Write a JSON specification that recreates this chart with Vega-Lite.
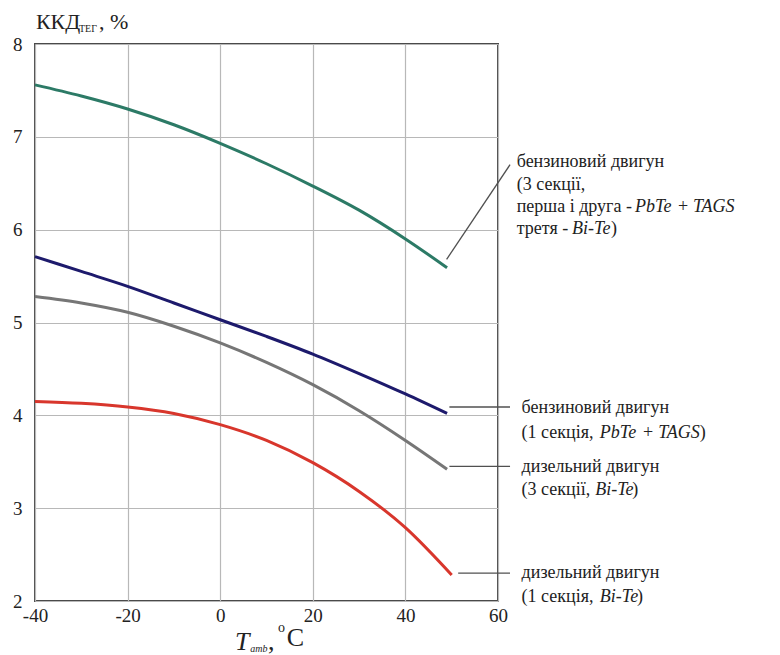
{
  "$schema": "https://vega.github.io/schema/vega-lite/v6.json",
  "width": 463,
  "height": 557,
  "autosize": "none",
  "padding": {"left": 35, "top": 44, "right": 282, "bottom": 54},
  "background": "white",
  "config": {
    "font": "Liberation Serif",
    "view": {"stroke": "#4a4a4a", "strokeWidth": 2},
    "axis": {"domain": false, "ticks": false, "grid": true, "gridColor": "#b8b8b8", "gridWidth": 1.2, "labelFont": "Liberation Serif", "labelFontSize": 19, "labelColor": "#222", "title": null}
  },
  "datasets": {
    "curves": [
      {"series": "g3", "t": -40, "eff": 7.56}, {"series": "g3", "t": -30, "eff": 7.44}, {"series": "g3", "t": -20, "eff": 7.30}, {"series": "g3", "t": -10, "eff": 7.13}, {"series": "g3", "t": 0, "eff": 6.93}, {"series": "g3", "t": 10, "eff": 6.71}, {"series": "g3", "t": 20, "eff": 6.47}, {"series": "g3", "t": 30, "eff": 6.21}, {"series": "g3", "t": 40, "eff": 5.90}, {"series": "g3", "t": 49, "eff": 5.59},
      {"series": "g1", "t": -40, "eff": 5.71}, {"series": "g1", "t": -30, "eff": 5.55}, {"series": "g1", "t": -20, "eff": 5.39}, {"series": "g1", "t": -10, "eff": 5.21}, {"series": "g1", "t": 0, "eff": 5.03}, {"series": "g1", "t": 10, "eff": 4.85}, {"series": "g1", "t": 20, "eff": 4.66}, {"series": "g1", "t": 30, "eff": 4.45}, {"series": "g1", "t": 40, "eff": 4.23}, {"series": "g1", "t": 49, "eff": 4.02},
      {"series": "d3", "t": -40, "eff": 5.28}, {"series": "d3", "t": -30, "eff": 5.21}, {"series": "d3", "t": -20, "eff": 5.11}, {"series": "d3", "t": -10, "eff": 4.96}, {"series": "d3", "t": 0, "eff": 4.78}, {"series": "d3", "t": 10, "eff": 4.57}, {"series": "d3", "t": 20, "eff": 4.33}, {"series": "d3", "t": 30, "eff": 4.05}, {"series": "d3", "t": 40, "eff": 3.73}, {"series": "d3", "t": 49, "eff": 3.42},
      {"series": "d1", "t": -40, "eff": 4.15}, {"series": "d1", "t": -30, "eff": 4.13}, {"series": "d1", "t": -20, "eff": 4.09}, {"series": "d1", "t": -10, "eff": 4.02}, {"series": "d1", "t": 0, "eff": 3.90}, {"series": "d1", "t": 10, "eff": 3.73}, {"series": "d1", "t": 20, "eff": 3.49}, {"series": "d1", "t": 30, "eff": 3.18}, {"series": "d1", "t": 40, "eff": 2.79}, {"series": "d1", "t": 50, "eff": 2.28}
    ],
    "leaders": [
      {"t": 48.9, "eff": 5.68, "t2": 62.6, "eff2": 6.70},
      {"t": 49.5, "eff": 4.09, "t2": 62.6, "eff2": 4.09},
      {"t": 49.5, "eff": 3.45, "t2": 62.6, "eff2": 3.45},
      {"t": 51.4, "eff": 2.30, "t2": 62.6, "eff2": 2.30}
    ],
    "notesPlain": [
      {"t": 64.04, "eff": 6.728, "text": "бензиновий двигун"},
      {"t": 64.04, "eff": 6.486, "text": "(3 секції,"},
      {"t": 64.04, "eff": 6.244, "text": "перша і друга -"},
      {"t": 98.9, "eff": 6.244, "text": "+"},
      {"t": 64.04, "eff": 6.002, "text": "третя -"},
      {"t": 84.4, "eff": 6.002, "text": ")"},
      {"t": 65.1, "eff": 4.079, "text": "бензиновий двигун"},
      {"t": 65.1, "eff": 3.810, "text": "(1 секція,"},
      {"t": 91.3, "eff": 3.810, "text": "+"},
      {"t": 103.6, "eff": 3.810, "text": ")"},
      {"t": 65.1, "eff": 3.447, "text": "дизельний двигун"},
      {"t": 65.1, "eff": 3.196, "text": "(3 секції,"},
      {"t": 89.0, "eff": 3.196, "text": ")"},
      {"t": 65.1, "eff": 2.301, "text": "дизельний двигун"},
      {"t": 65.1, "eff": 2.043, "text": "(1 секція,"},
      {"t": 90.0, "eff": 2.043, "text": ")"}
    ],
    "notesItalic": [
      {"t": 89.6, "eff": 6.244, "text": "PbTe"},
      {"t": 102.1, "eff": 6.244, "text": "TAGS"},
      {"t": 76.0, "eff": 6.002, "text": "Bi-Te"},
      {"t": 82.0, "eff": 3.810, "text": "PbTe"},
      {"t": 94.6, "eff": 3.810, "text": "TAGS"},
      {"t": 81.0, "eff": 3.196, "text": "Bi-Te"},
      {"t": 82.0, "eff": 2.043, "text": "Bi-Te"}
    ],
    "titleMain": [
      {"t": -39.8, "eff": 8.232, "text": "ККД"},
      {"t": -26.2, "eff": 8.232, "text": ", %"}
    ],
    "titleSub": [
      {"t": -30.5, "eff": 8.16, "text": "ТЕГ"}
    ],
    "xTitle": [
      {"t": 10.3, "eff": 1.558, "text": ","},
      {"t": 14.4, "eff": 1.60, "text": "C"}
    ],
    "xTitleItalic": [
      {"t": 3.2, "eff": 1.558, "text": "T"}
    ],
    "xTitleItalicSub": [
      {"t": 6.5, "eff": 1.483, "text": "amb"}
    ],
    "xTitleSup": [
      {"t": 12.5, "eff": 1.709, "text": "o"}
    ]
  },
  "layer": [
    {
      "data": {"name": "curves"},
      "mark": {"type": "line", "interpolate": "monotone", "clip": false},
      "encoding": {
        "x": {"field": "t", "type": "quantitative", "scale": {"domain": [-40, 60], "nice": false, "zero": false}, "axis": {"values": [-40, -20, 0, 20, 40, 60], "labelPadding": 5, "labelFlush": false, "labelExpr": "'' + datum.value"}},
        "y": {"field": "eff", "type": "quantitative", "scale": {"domain": [2, 8], "nice": false, "zero": false}, "axis": {"values": [2, 3, 4, 5, 6, 7, 8], "labelPadding": 13, "labelExpr": "'' + datum.value"}},
        "color": {"field": "series", "type": "nominal", "scale": {"domain": ["g3", "g1", "d3", "d1"], "range": ["#2c7a66", "#1d1a6c", "#767676", "#d8362c"]}, "legend": null},
        "strokeWidth": {"field": "series", "type": "nominal", "scale": {"domain": ["g3", "g1", "d3", "d1"], "range": [3, 3, 2, 2]}, "legend": null}
      }
    },
    {
      "data": {"name": "leaders"},
      "mark": {"type": "rule", "color": "#505050", "strokeWidth": 1.3, "clip": false},
      "encoding": {
        "x": {"field": "t", "type": "quantitative"},
        "y": {"field": "eff", "type": "quantitative"},
        "x2": {"field": "t2"},
        "y2": {"field": "eff2"}
      }
    },
    {
      "data": {"name": "notesPlain"},
      "mark": {"type": "text", "align": "left", "baseline": "middle", "font": "Liberation Serif", "fontSize": 18, "color": "#222", "clip": false},
      "encoding": {
        "x": {"field": "t", "type": "quantitative"},
        "y": {"field": "eff", "type": "quantitative"},
        "text": {"field": "text"}
      }
    },
    {
      "data": {"name": "notesItalic"},
      "mark": {"type": "text", "align": "left", "baseline": "middle", "font": "Liberation Serif", "fontStyle": "italic", "fontSize": 18, "color": "#222", "clip": false},
      "encoding": {
        "x": {"field": "t", "type": "quantitative"},
        "y": {"field": "eff", "type": "quantitative"},
        "text": {"field": "text"}
      }
    },
    {
      "data": {"name": "titleMain"},
      "mark": {"type": "text", "align": "left", "baseline": "middle", "font": "Liberation Serif", "fontSize": 22, "color": "#222", "clip": false},
      "encoding": {
        "x": {"field": "t", "type": "quantitative"},
        "y": {"field": "eff", "type": "quantitative"},
        "text": {"field": "text"}
      }
    },
    {
      "data": {"name": "titleSub"},
      "mark": {"type": "text", "align": "left", "baseline": "middle", "font": "Liberation Serif", "fontSize": 10, "color": "#222", "clip": false},
      "encoding": {
        "x": {"field": "t", "type": "quantitative"},
        "y": {"field": "eff", "type": "quantitative"},
        "text": {"field": "text"}
      }
    },
    {
      "data": {"name": "xTitle"},
      "mark": {"type": "text", "align": "left", "baseline": "middle", "font": "Liberation Serif", "fontSize": 26, "color": "#222", "clip": false},
      "encoding": {
        "x": {"field": "t", "type": "quantitative"},
        "y": {"field": "eff", "type": "quantitative"},
        "text": {"field": "text"}
      }
    },
    {
      "data": {"name": "xTitleItalic"},
      "mark": {"type": "text", "align": "left", "baseline": "middle", "font": "Liberation Serif", "fontStyle": "italic", "fontSize": 26, "color": "#222", "clip": false},
      "encoding": {
        "x": {"field": "t", "type": "quantitative"},
        "y": {"field": "eff", "type": "quantitative"},
        "text": {"field": "text"}
      }
    },
    {
      "data": {"name": "xTitleItalicSub"},
      "mark": {"type": "text", "align": "left", "baseline": "middle", "font": "Liberation Serif", "fontStyle": "italic", "fontSize": 10, "color": "#222", "clip": false},
      "encoding": {
        "x": {"field": "t", "type": "quantitative"},
        "y": {"field": "eff", "type": "quantitative"},
        "text": {"field": "text"}
      }
    },
    {
      "data": {"name": "xTitleSup"},
      "mark": {"type": "text", "align": "left", "baseline": "middle", "font": "Liberation Serif", "fontSize": 14, "color": "#222", "clip": false},
      "encoding": {
        "x": {"field": "t", "type": "quantitative"},
        "y": {"field": "eff", "type": "quantitative"},
        "text": {"field": "text"}
      }
    }
  ]
}
